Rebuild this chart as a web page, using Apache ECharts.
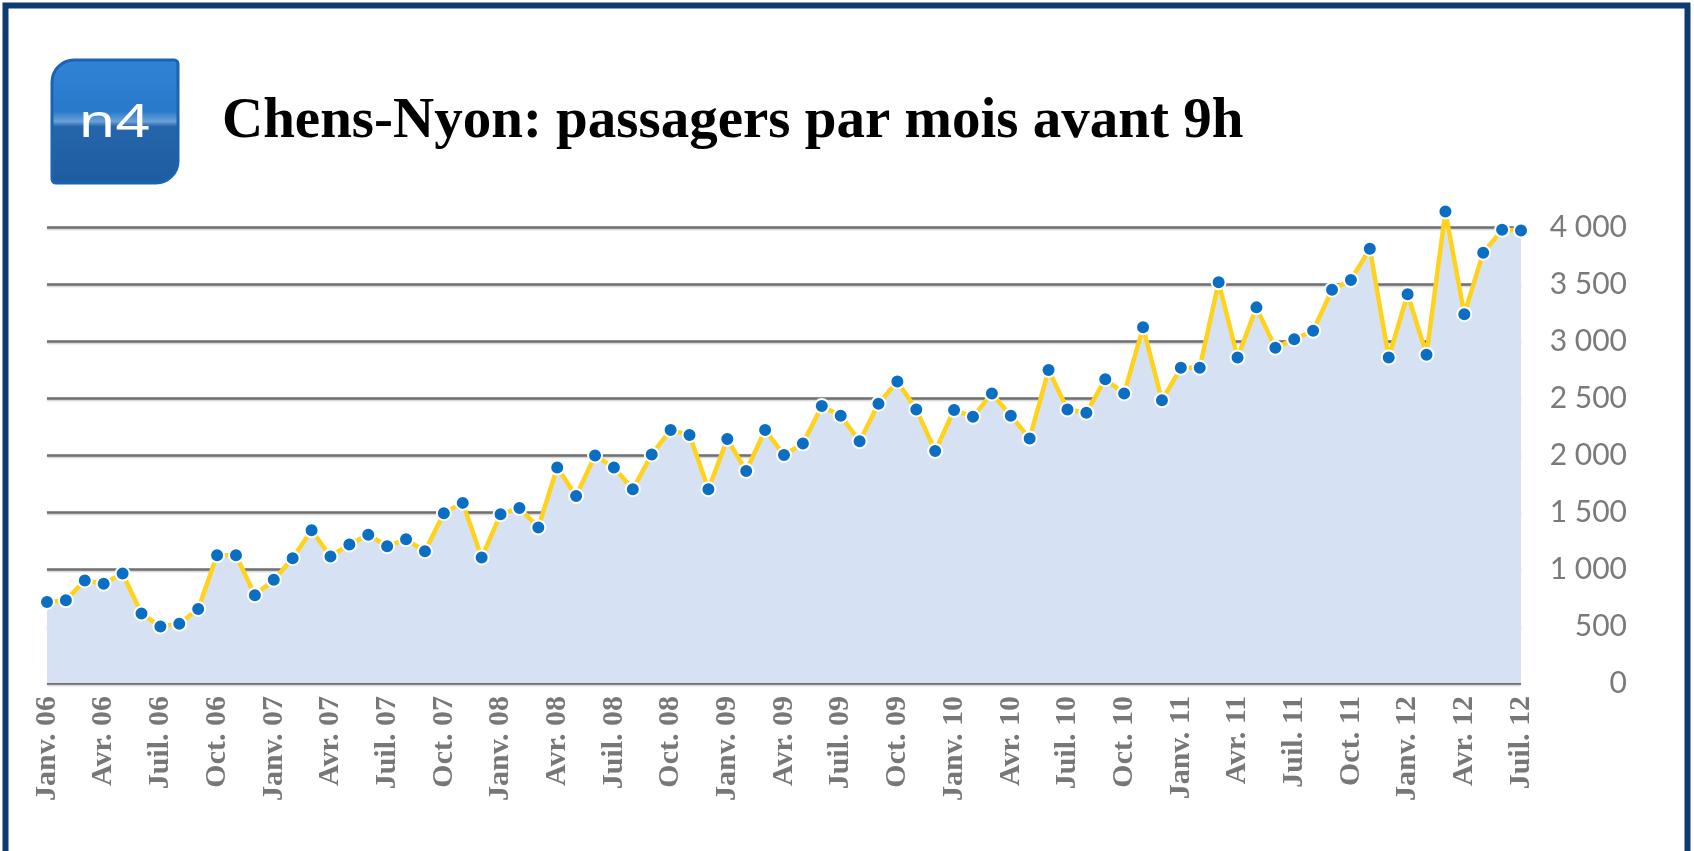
<!DOCTYPE html>
<html>
<head>
<meta charset="utf-8">
<script src="https://cdn.jsdelivr.net/npm/echarts@6/dist/echarts.min.js"></script>
<style>
  html, body { margin: 0; padding: 0; background: #fff; }
  #chart { width: 1694px; height: 851px; }
</style>
</head>
<body>
<div id="chart"></div>
<script>
// Données : passagers par mois avant 9h, janv. 2006 -> juil. 2012
var monthNames = ['Janv.', 'Févr.', 'Mars', 'Avr.', 'Mai', 'Juin', 'Juil.', 'Août', 'Sept.', 'Oct.', 'Nov.', 'Déc.'];
var years = ['06', '07', '08', '09', '10', '11', '12'];
var monthsIn2012 = 7;

var passagers2006 = [710, 725, 900, 870, 960, 610, 495, 520, 650, 1120, 1120, 770];
var passagers2007 = [905, 1095, 1340, 1110, 1215, 1300, 1200, 1260, 1155, 1490, 1580, 1100];
var passagers2008 = [1480, 1535, 1365, 1890, 1640, 1995, 1890, 1700, 2005, 2220, 2175, 1700];
var passagers2009 = [2140, 1860, 2220, 2000, 2100, 2430, 2345, 2120, 2450, 2645, 2400, 2035];
var passagers2010 = [2395, 2335, 2540, 2345, 2145, 2745, 2400, 2370, 2665, 2540, 3120, 2480];
var passagers2011 = [2765, 2765, 3515, 2855, 3295, 2940, 3015, 3090, 3450, 3535, 3810, 2855];
var passagers2012 = [3410, 2880, 4135, 3235, 3775, 3975, 3970];

var yTicks = [0, 500, 1000, 1500, 2000, 2500, 3000, 3500, 4000];

// construire les catégories mensuelles
var categories = [];
years.forEach(function (yy, i) {
  var n = (i === years.length - 1) ? monthsIn2012 : 12;
  for (var m = 0; m < n; m++) categories.push(monthNames[m] + ' ' + yy);
});
var values = [].concat(passagers2006, passagers2007, passagers2008, passagers2009,
  passagers2010, passagers2011, passagers2012);

var myChart = echarts.init(document.getElementById('chart'), null, { renderer: 'canvas' });

var option = {
  animation: false,
  backgroundColor: '#fff',
  grid: { left: 47, right: 173, top: 227, bottom: 168 },
  graphic: [
    // cadre bleu
    {
      type: 'polyline',
      shape: { points: [[5.5, 851], [5.5, 5.5], [1687.5, 5.5], [1687.5, 851]] },
      style: { stroke: '#0e3a6c', lineWidth: 6, fill: null },
      z: 10
    },
    // logo n4
    {
      type: 'rect',
      shape: { x: 52, y: 60, width: 126, height: 123, r: [22, 4, 22, 4] },
      style: {
        fill: new echarts.graphic.LinearGradient(0, 0, 0, 1, [
          { offset: 0, color: '#2f84d6' },
          { offset: 0.42, color: '#2a79cb' },
          { offset: 0.5, color: '#6aa2d8' },
          { offset: 0.54, color: '#2565ab' },
          { offset: 1, color: '#1d5c9f' }
        ]),
        stroke: '#1c63b4',
        lineWidth: 3
      },
      z: 10
    },
    {
      type: 'text',
      x: 114, y: 124,
      scaleX: 1.3,
      style: {
        text: 'n4',
        fill: '#fff',
        font: '46px "Noto Sans"',
        align: 'center',
        verticalAlign: 'middle'
      },
      z: 11
    },
    // titre
    {
      type: 'text',
      x: 222, y: 122,
      style: {
        text: 'Chens-Nyon: passagers par mois avant 9h',
        fill: '#000',
        font: 'bold 57px "Liberation Serif"',
        align: 'left',
        verticalAlign: 'middle'
      },
      z: 10
    }
  ],
  xAxis: {
    type: 'category',
    data: categories,
    boundaryGap: false,
    axisLine: { show: false },
    axisTick: { show: false },
    axisLabel: {
      interval: 2,
      rotate: 90,
      margin: 13,
      color: '#777',
      fontFamily: 'Liberation Serif',
      fontWeight: 'bold',
      fontSize: 30
    },
    splitLine: { show: false }
  },
  yAxis: {
    type: 'value',
    position: 'right',
    min: yTicks[0],
    max: yTicks[yTicks.length - 1],
    interval: 500,
    axisLine: { show: false },
    axisTick: { show: false },
    axisLabel: {
      align: 'right',
      margin: 106,
      color: '#7a7a7a',
      fontFamily: 'Lato',
      fontSize: 30,
      formatter: function (v) {
        return v >= 1000 ? Math.floor(v / 1000) + ' ' + String(v % 1000).padStart(3, '0') : String(v);
      }
    },
    splitLine: {
      show: true,
      lineStyle: {
        color: '#707070',
        width: 2.5,
        shadowColor: 'rgba(0,0,0,0.25)',
        shadowBlur: 2,
        shadowOffsetY: 1
      }
    }
  },
  series: [
    {
      type: 'line',
      data: values,
      clip: false,
      symbol: 'circle',
      symbolSize: 14,
      showAllSymbol: true,
      lineStyle: { color: '#ffd21c', width: 4.5 },
      itemStyle: { color: '#0a6fc2', borderColor: '#fff', borderWidth: 2 },
      areaStyle: { color: '#d6e2f4', opacity: 1 },
      z: 3
    }
  ]
};
myChart.setOption(option);
</script>
</body>
</html>
